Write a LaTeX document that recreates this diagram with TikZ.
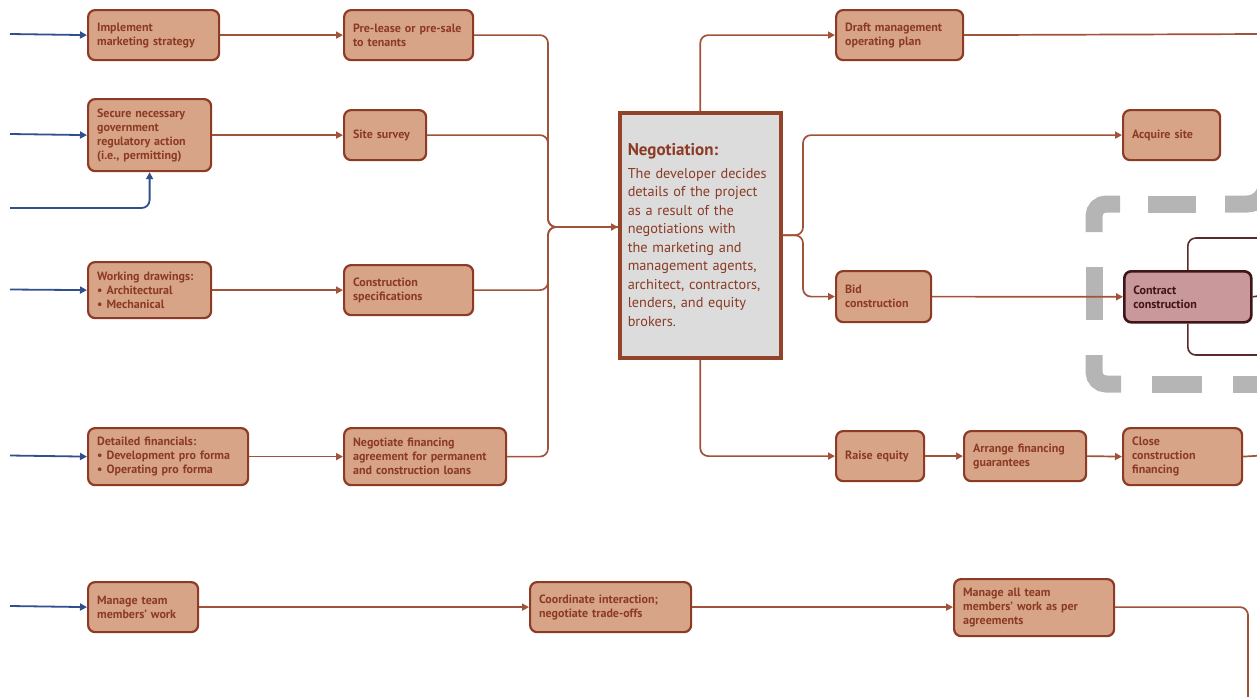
\documentclass[tikz,border=0pt]{standalone}
\usepackage{fontspec}
\setmainfont{PT Sans}
\usetikzlibrary{arrows.meta,calc}
\definecolor{bfill}{HTML}{D8A487}
\definecolor{bdr}{HTML}{8E3B25}
\definecolor{txt}{HTML}{8B3A24}
\definecolor{lnk}{HTML}{A0533A}
\definecolor{negfill}{HTML}{DCDCDC}
\definecolor{negbdr}{HTML}{94432B}
\definecolor{ccfill}{HTML}{C9989A}
\definecolor{ccbdr}{HTML}{3F1518}
\definecolor{ccln}{HTML}{5A2A2A}
\definecolor{blu}{HTML}{2F4F8F}
\definecolor{dgrey}{HTML}{B5B5B5}
\tikzset{
  box/.style={draw=bdr, fill=bfill, line width=2.2pt, rounded corners=7pt, text=txt,
    font=\fontsize{12}{14}\selectfont\bfseries, align=left, inner xsep=9pt, inner ysep=2pt,
    anchor=north west},
  conn/.style={draw=lnk, line width=1.7pt, rounded corners=8pt},
  tip/.style={-{Triangle[length=7pt,width=7pt]}},
  bconn/.style={draw=blu, line width=1.8pt, rounded corners=8pt, -{Triangle[length=7pt,width=7pt]}},
  dconn/.style={draw=ccln, line width=1.6pt, rounded corners=8pt},
  gdash/.style={draw=dgrey, line width=17pt, rounded corners=12pt}
}
\begin{document}
\begin{tikzpicture}[x=1pt,y=-1pt]
\useasboundingbox (0,0) rectangle (1257,696);
\clip (0,0) rectangle (1257,696);
% dashed grey frame
\draw[gdash] (1094,232) -- (1094,204) -- (1120,204);
\draw[gdash] (1094,267) -- (1094,320);
\draw[gdash] (1094,355) -- (1094,384) -- (1121,384);
\draw[gdash] (1148,204) -- (1196,204);
\draw[gdash, rounded corners=19pt] (1225,204) -- (1266,204) -- (1266,120);
\draw[gdash] (1152,384) -- (1202,384);
\draw[gdash] (1233,384) -- (1270,384);

% nodes
\node[box, text width=113pt, minimum height=50pt] (ims) at (87,9) {Implement\\marketing strategy};
\node[box, text width=111pt, minimum height=50pt] (pre) at (343,9) {Pre-lease or pre-sale\\to tenants};
\node[box, text width=105pt, minimum height=72pt] (sec) at (87,98) {Secure necessary\\government\\regulatory action\\(i.e., permitting)};
\node[box, text width=64pt, minimum height=50pt] (site) at (343,109) {Site survey};
\node[box, text width=105pt, minimum height=56pt] (wd) at (87,261) {Working drawings:\\\textbullet\ Architectural\\\textbullet\ Mechanical};
\node[box, text width=111pt, minimum height=50pt] (cs) at (343,264) {Construction\\specifications};
\node[box, text width=142pt, minimum height=57pt] (df) at (87,427) {Detailed financials:\\\textbullet\ Development pro forma\\\textbullet\ Operating pro forma};
\node[box, text width=144pt, minimum height=57pt] (nf) at (343,427) {Negotiate financing\\agreement for permanent\\and construction loans};
\node[box, text width=92pt, minimum height=50pt] (mt) at (87,581) {Manage team\\members’ work};
\node[box, text width=143pt, minimum height=50pt] (ci) at (529,581) {Coordinate interaction;\\negotiate trade-offs};
\node[box, text width=142pt, minimum height=57pt] (ma) at (953,578) {Manage all team\\members’ work as per\\agreements};
\node[draw=negbdr, fill=negfill, line width=3.5pt, text=txt, align=left, text width=145pt,
  minimum height=245pt, inner xsep=8pt, anchor=north west,
  font=\fontsize{14.3}{18.5}\selectfont] (neg) at (618,111)
  {{\fontsize{17}{20}\selectfont\bfseries Negotiation:\par}\vspace{4pt}The developer decides\\details of the project\\as a result of the\\negotiations with\\the marketing and\\management agents,\\architect, contractors,\\lenders, and equity\\brokers.};
\node[box, text width=109pt, minimum height=50pt] (dm) at (835,9) {Draft management\\operating plan};
\node[box, text width=79pt, minimum height=50pt] (acq) at (1122,109) {Acquire site};
\node[box, text width=77pt, minimum height=51pt] (bid) at (835,270) {Bid\\construction};
\node[box, draw=ccbdr, fill=ccfill, text=ccbdr, line width=2.6pt, text width=109pt, minimum height=51pt] (cc) at (1123,270) {Contract\\construction};
\node[box, text width=70pt, minimum height=50pt] (re) at (835,430) {Raise equity};
\node[box, text width=104pt, minimum height=50pt] (afg) at (963,430) {Arrange financing\\guarantees};
\node[box, text width=101pt, minimum height=57pt] (ccf) at (1122,427) {Close\\construction\\financing};

% free ends
\coordinate (b1) at (10,34);
\coordinate (b2) at (10,134);
\coordinate (b3) at (10,208);
\coordinate (b4) at (10,289.5);
\coordinate (b5) at (10,455.5);
\coordinate (b6) at (10,606);
\coordinate (jn) at (548,227);
\coordinate (jend) at (618,227);
\coordinate (br1) at (803,200);
\coordinate (br2) at (803,260);
\coordinate (e1) at (1262,34);
\coordinate (e2) at (1262,238);
\coordinate (e3) at (1262,355);
\coordinate (e4) at (1262,295.5);
\coordinate (e5) at (1262,455.5);
\coordinate (e6) at (1248,702);

% blue inputs
\draw[bconn] (b1) -- (ims.west);
\draw[bconn] (b2) -- (sec.west);
\draw[bconn] (b3) -| (sec.south);
\draw[bconn] (b4) -- (wd.west);
\draw[bconn] (b5) -- (df.west);
\draw[bconn] (b6) -- (mt.west);

% left column links
\draw[conn, tip] (ims.east) -- (pre.west);
\draw[conn, tip] (sec.east) -- (site.west);
\draw[conn, tip] (wd.east) -- (cs.west);
\draw[conn, tip] (df.east) -- (nf.west);
\draw[conn, tip] (mt.east) -- (ci.west);
\draw[conn, tip] (ci.east) -- (ma.west |- ci.east);
\draw[conn] (ma.east |- ci.east) -| (e6);

% merge into negotiation
\draw[conn] (pre.east) -| (jn) -- (jend);
\draw[conn] (site.east) -| (jn) -- (jend);
\draw[conn] (cs.east) -| (jn) -- (jend);
\draw[conn, tip] (nf.east) -| (jn) -- (jend);

% outputs of negotiation
\draw[conn, tip] (neg.north) |- (dm.west);
\draw[conn] (dm.east) -- (e1);
\draw[conn, tip] (neg.east) -| (br1) |- (acq.west);
\draw[conn, tip] (neg.east) -| (br2) |- (bid.west);
\draw[conn, tip] (bid.east) -- (cc.west);
\draw[dconn] (cc.north) |- (e2);
\draw[dconn] (cc.south) |- (e3);
\draw[dconn] (cc.east) -- (e4);
\draw[conn, tip] (neg.south) |- (re.west);
\draw[conn, tip] (re.east) -- (afg.west);
\draw[conn, tip] (afg.east) -- (ccf.west);
\draw[conn] (ccf.east) -- (e5);
\end{tikzpicture}
\end{document}
